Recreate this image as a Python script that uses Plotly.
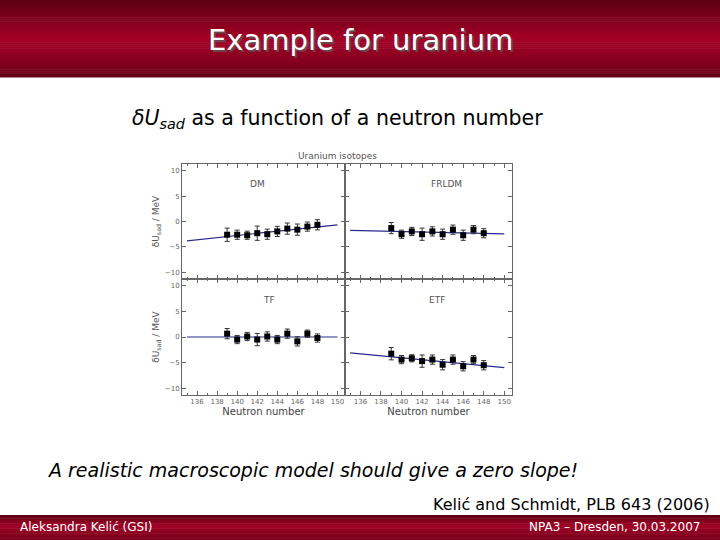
import plotly.graph_objects as go

# ---------------- data ----------------
neutrons = [139, 140, 141, 142, 143, 144, 145, 146, 147, 148]
dm = [-2.6, -2.6, -2.7, -2.3, -2.5, -1.95, -1.4, -1.6, -1.0, -0.65]
dm_err = [1.3, 0.9, 0.8, 1.4, 1.0, 1.0, 1.1, 1.1, 0.9, 1.0]
frldm = [-1.3, -2.5, -1.95, -2.5, -1.95, -2.5, -1.6, -2.7, -1.6, -2.3]
frldm_err = [1.1, 0.8, 0.8, 1.2, 0.9, 1.0, 0.9, 1.0, 0.8, 0.9]
tf = [0.65, -0.5, 0.1, -0.5, 0.1, -0.5, 0.65, -0.85, 0.65, -0.2]
tf_err = [1.0, 0.8, 0.8, 1.2, 0.9, 0.8, 0.9, 0.9, 0.7, 0.8]
etf = [-3.25, -4.4, -4.15, -4.7, -4.4, -5.4, -4.4, -5.7, -4.4, -5.5]
etf_err = [1.2, 0.8, 0.7, 1.2, 0.9, 1.0, 0.9, 0.9, 0.8, 0.9]

fit_n = [135, 150]
dm_fit = [-3.8, -0.65]
frldm_fit = [-1.75, -2.45]
tf_fit = [0.0, 0.0]
etf_fit = [-3.1, -5.95]

panel_names = ["DM", "FRLDM", "TF", "ETF"]
x_ticks = [136, 138, 140, 142, 144, 146, 148, 150]
y_ticks = [-10, -5, 0, 5, 10]

W, H = 720, 540


def px(x):
    return x / W


def py(y):
    return 1 - y / H


fig = go.Figure()

panels = [
    (dm, dm_err, dm_fit, "x", "y"),
    (frldm, frldm_err, frldm_fit, "x2", "y2"),
    (tf, tf_err, tf_fit, "x3", "y3"),
    (etf, etf_err, etf_fit, "x4", "y4"),
]

for vals, errs, fit, xa, ya in panels:
    fig.add_trace(go.Scatter(
        x=fit_n, y=fit, mode="lines", xaxis=xa, yaxis=ya,
        line=dict(color="#2a2a90", width=1.2), showlegend=False, hoverinfo="skip"))
    fig.add_trace(go.Scatter(
        x=neutrons, y=vals, mode="markers", xaxis=xa, yaxis=ya,
        marker=dict(symbol="square", size=6, color="black"),
        error_y=dict(type="data", array=errs, color="#333333", thickness=1, width=2.5),
        showlegend=False))

# domains
xl = [px(182), px(345)]
xr = [px(345), px(512)]
yt = [py(279), py(164)]
yb = [py(395), py(279)]

axis_common = dict(
    showline=True, linecolor="#666666", linewidth=1, mirror="ticks",
    ticks="inside", ticklen=4, tickcolor="#666666", showgrid=False, zeroline=False,
    tickfont=dict(family="DejaVu Sans", size=7, color="#666666"),
)
xaxis_common = dict(axis_common, range=[134.5, 150.75], tickvals=x_ticks,
                    minor=dict(dtick=1, ticks="inside", ticklen=2, tickcolor="#666666"))
yaxis_common = dict(axis_common, range=[-11.3, 11.3], tickvals=y_ticks)

ytitle = dict(text="δU<sub>sad</sub> / MeV", font=dict(family="DejaVu Sans", size=9, color="#555555"), standoff=3)
xtitle = dict(text="Neutron number", font=dict(family="DejaVu Sans", size=10, color="#444444"), standoff=2)

fig.update_layout(
    xaxis=dict(xaxis_common, domain=xl, anchor="y", showticklabels=False),
    yaxis=dict(yaxis_common, domain=yt, anchor="x", title=ytitle),
    xaxis2=dict(xaxis_common, domain=xr, anchor="y2", showticklabels=False),
    yaxis2=dict(yaxis_common, domain=yt, anchor="x2", showticklabels=False),
    xaxis3=dict(xaxis_common, domain=xl, anchor="y3", title=xtitle),
    yaxis3=dict(yaxis_common, domain=yb, anchor="x3", title=ytitle),
    xaxis4=dict(xaxis_common, domain=xr, anchor="y4", title=xtitle),
    yaxis4=dict(yaxis_common, domain=yb, anchor="x4", showticklabels=False),
)

shapes = []


def gradient_bar(y0, y1, stops, n=40):
    # stops: list of (fraction, (r,g,b))
    h = (y1 - y0) / n
    for i in range(n):
        f = (i + 0.5) / n
        for j in range(len(stops) - 1):
            if stops[j][0] <= f <= stops[j + 1][0]:
                a, ca = stops[j]
                b, cb = stops[j + 1]
                t = (f - a) / (b - a)
                c = tuple(int(ca[k] + (cb[k] - ca[k]) * t) for k in range(3))
                break
        shapes.append(dict(type="rect", xref="paper", yref="paper", layer="below",
                           x0=0, x1=1, y0=py(y0 + i * h), y1=py(y0 + (i + 1) * h + 0.5),
                           fillcolor="rgb(%d,%d,%d)" % c, line=dict(width=0)))


gradient_bar(0, 77, [(0, (95, 0, 20)), (0.25, (125, 0, 28)), (0.5, (165, 0, 38)),
                     (0.75, (140, 0, 32)), (1.0, (100, 0, 22))])
gradient_bar(515, 540, [(0, (95, 0, 20)), (0.45, (160, 0, 36)), (1.0, (120, 0, 28))], n=15)

fig.update_layout(shapes=shapes)


def note(x, y, text, size, color="black", xanchor="center", shadow=None):
    font = dict(family="DejaVu Sans", size=size, color=color)
    if shadow:
        font["shadow"] = shadow
    return dict(x=px(x), y=py(y), xref="paper", yref="paper", showarrow=False,
                xanchor=xanchor, yanchor="middle", text=text, font=font)


annotations = []
annotations.append(note(360, 40, "Example for uranium", 29, "white", shadow="2px 2px 1px #6a4a52"))
annotations.append(note(130, 119, "<i>δU<sub>sad</sub></i> as a function of a neutron number", 20.5, xanchor="left"))
annotations.append(note(337, 156, "Uranium isotopes", 9, "#555555"))
label_pos = [(257, 184), (446, 184), (269, 300), (437, 300)]
for name, (lx, ly) in zip(panel_names, label_pos):
    annotations.append(note(lx, ly, name, 9, "#555555"))
annotations.append(note(45, 470, "<i>A realistic macroscopic model should give a zero slope!</i>", 19, xanchor="left"))
annotations.append(note(712, 504, "Kelić and Schmidt, PLB 643 (2006)", 16, xanchor="right"))
annotations.append(note(18, 527, "Aleksandra Kelić (GSI)", 12, "white", xanchor="left"))
annotations.append(note(702, 527, "NPA3 – Dresden, 30.03.2007", 12, "white", xanchor="right"))

fig.update_layout(
    annotations=annotations,
    width=W, height=H,
    margin=dict(l=0, r=0, t=0, b=0),
    paper_bgcolor="white", plot_bgcolor="white",
)

fig.write_html("out.html", config={"displayModeBar": False},
               post_script="document.body.style.margin='0';")
